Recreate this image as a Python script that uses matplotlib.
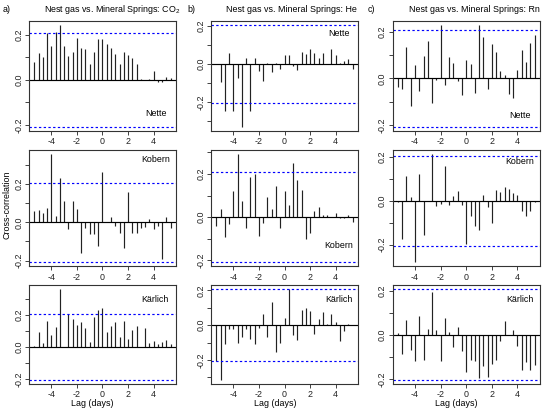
import numpy as np
import matplotlib
matplotlib.use('Agg')
import matplotlib.pyplot as plt

plt.rcParams['font.family'] = ['Liberation Sans', 'DejaVu Sans']
plt.rcParams['mathtext.fontset'] = 'custom'
plt.rcParams['mathtext.rm'] = 'Liberation Sans'
plt.rcParams['mathtext.it'] = 'Liberation Sans:italic'

# lag index (steps of 8 h = 1/3 day)
lag_steps = np.arange(-16, 17)
lags = lag_steps / 3.0
conf = 0.207

co2_nette = [0.081, 0.12, 0.10, 0.207, 0.15, 0.215, 0.245, 0.152, 0.105, 0.124, 0.185, 0.142, 0.138, 0.073, 0.123, 0.184,
             0.181,
             0.158, 0.141, 0.116, 0.071, 0.126, 0.111, 0.099, 0.07, 0.006, 0.0, 0.005, 0.038, -0.009, -0.009, 0.012, 0.01]
co2_kobern = [0.059, 0.063, 0.049, 0.075, 0.357, 0.035, 0.231, 0.111, -0.037, 0.11, 0.068, -0.162, -0.028, -0.061, -0.059, -0.123,
              0.264,
              0.003, 0.03, -0.021, -0.057, -0.136, 0.158, -0.054, -0.057, -0.03, -0.023, 0.016, -0.035, -0.017, -0.19, 0.026, -0.028]
co2_karlich = [0.004, 0.093, 0.025, 0.161, 0.075, 0.126, 0.36, 0.0, 0.207, 0.174, 0.137, 0.153, 0.12, 0.031, 0.186, 0.228,
               0.24,
               0.095, 0.132, 0.155, 0.062, 0.161, 0.05, 0.106, 0.13, 0.0, 0.118, 0.025, 0.035, 0.019, 0.031, 0.043, 0.019]

he_nette = [0.003, -0.094, -0.247, 0.057, -0.245, -0.073, -0.329, 0.031, -0.245, 0.031, -0.038, -0.087, 0.005, -0.042, 0.005, -0.026,
            0.049,
            0.05, -0.012, -0.033, 0.064, 0.054, 0.078, 0.059, 0.031, 0.057, 0.0, 0.08, 0.049, 0.007, 0.017, 0.026, -0.024]
he_kobern = [-0.039, 0.04, -0.091, -0.031, 0.119, 0.293, 0.074, -0.051, 0.186, 0.198, -0.085, -0.029, 0.095, 0.036, 0.144, -0.048,
             0.122,
             0.057, 0.251, 0.174, 0.127, -0.102, -0.074, 0.028, 0.048, 0.008, 0.008, 0.0, 0.019, -0.003, -0.002, 0.009, -0.023]
he_karlich = [-0.204, -0.318, -0.108, -0.021, -0.025, -0.1, -0.071, -0.021, -0.077, -0.106, -0.019, 0.067, -0.069, 0.131, -0.156, -0.1,
              0.042,
              0.208, -0.056, -0.085, 0.085, 0.096, 0.083, -0.052, 0.035, 0.075, 0.008, 0.064, 0.019, -0.094, -0.031, 0.008, 0.002]

rn_nette = [-0.037, -0.046, 0.135, -0.12, 0.057, -0.053, 0.095, 0.16, -0.106, -0.007, 0.231, -0.029, 0.093, 0.067, -0.009, -0.069,
            0.079,
            0.062, -0.063, 0.231, 0.179, -0.047, 0.149, 0.115, 0.033, 0.014, -0.066, -0.086, 0.037, 0.122, 0.07, 0.155, 0.188]
rn_kobern = [-0.006, -0.174, 0.113, 0.02, -0.279, 0.123, -0.157, 0.0, 0.215, -0.023, -0.015, 0.16, -0.017, 0.024, 0.047, -0.02,
             -0.198,
             -0.07, -0.116, -0.135, 0.029, -0.029, -0.099, 0.05, 0.04, 0.062, 0.056, 0.038, 0.029, -0.046, -0.07, -0.044, -0.006]
rn_karlich = [0.006, -0.088, 0.068, -0.071, -0.121, 0.085, -0.113, 0.024, 0.193, 0.02, -0.121, 0.076, 0.014, -0.057, 0.035, -0.076,
              -0.168,
              -0.113, -0.118, -0.198, -0.144, -0.19, -0.134, -0.113, -0.029, 0.063, 0.0, 0.02, -0.05, -0.159, -0.125, -0.159, -0.139]

stations = ['Nette', 'Kobern', 'Kärlich']
titles = ['Nest gas vs. Mineral Springs: CO$_2$', 'Nest gas vs. Mineral Springs: He', 'Nest gas vs. Mineral Springs: Rn']
panel_letters = ['a)', 'b)', 'c)']
xticks = [-4, -2, 0, 2, 4]

panels = [[co2_nette, he_nette, rn_nette],
          [co2_kobern, he_kobern, rn_kobern],
          [co2_karlich, he_karlich, rn_karlich]]

W, H = 550, 411
fig = plt.figure(figsize=(5.5, 4.11), dpi=100)

cols = [(29, 176), (211, 358), (392.5, 540)]
rows = [(20.8, 130.6), (149.5, 266.3), (285.4, 384.0)]

# station label anchor (right x, center y) in pixels
label_pos = [[(167, 114), (350, 33), (531, 115)],
             [(170, 160), (353, 245), (534, 161)],
             [(169, 299), (353, 299), (534, 299)]]

FS = 6.4
TFS = 6.4
for r in range(3):
    for c in range(3):
        x0, x1 = cols[c]
        y0, y1 = rows[r]
        ax = fig.add_axes([x0 / W, 1 - y1 / H, (x1 - x0) / W, (y1 - y0) / H])
        vals = np.array(panels[r][c])
        ax.vlines(lags, 0, vals, color='#222222', lw=0.85)
        ax.axhline(0, color='black', lw=0.85)
        for s in (conf, -conf):
            ax.axhline(s, color='#0000ff', lw=0.85, ls=(0, (2.0, 2.0)))
        lo, hi = lags.min(), lags.max()
        ext = 0.04 * (hi - lo)
        ax.set_xlim(lo - ext, hi + ext)
        ylo = min(vals.min(), -conf)
        yhi = max(vals.max(), conf)
        ey = 0.04 * (yhi - ylo)
        ax.set_ylim(ylo - ey, yhi + ey)
        yt = [t / 10 for t in range(-4, 5) if ylo - ey <= t / 10 <= yhi + ey]
        ax.set_yticks(yt)
        ax.set_yticklabels(['%.1f' % t if round(t * 10) % 2 == 0 else '' for t in yt],
                           rotation=90, va='center')
        ax.set_xticks(xticks)
        ax.set_xticklabels([str(t) for t in xticks])
        ax.tick_params(direction='out', length=3, width=0.6, labelsize=TFS, pad=1.5, colors='#222222')
        ax.tick_params(axis='y', pad=1.2)
        for sp in ax.spines.values():
            sp.set_linewidth(0.8)
            sp.set_color('#333333')
        lx, ly = label_pos[r][c]
        fig.text(lx / W, 1 - ly / H, stations[r], ha='right', va='center', fontsize=FS)

title_x = [112, 291, 474]
letter_x = [3, 187, 368]
xlabel_x = [92, 275, 456]
for c in range(3):
    fig.text(title_x[c] / W, 1 - 10 / H, titles[c], ha='center', va='center', fontsize=FS)
    fig.text(letter_x[c] / W, 1 - 10 / H, panel_letters[c], ha='left', va='center', fontsize=FS)
    fig.text(xlabel_x[c] / W, 1 - 403 / H, 'Lag (days)', ha='center', va='center', fontsize=FS)

fig.text(7 / W, 1 - 205 / H, 'Cross-correlation', rotation=90, ha='center', va='center', fontsize=FS)

fig.savefig('out.png', dpi=100)
